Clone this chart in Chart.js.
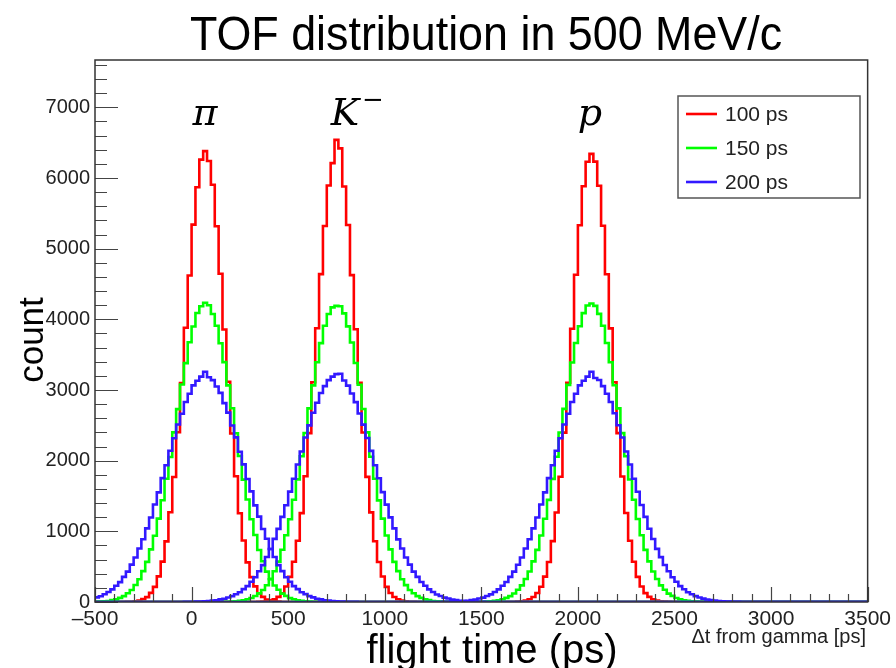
<!DOCTYPE html>
<html>
<head>
<meta charset="utf-8">
<title>TOF distribution in 500 MeV/c</title>
<script src="https://cdn.jsdelivr.net/npm/chart.js@4/dist/chart.umd.min.js"></script>
<style>
  html, body { margin: 0; padding: 0; background: #fff; }
  #tof { display: block; }
</style>
</head>
<body>
<canvas id="tof" width="896" height="668"></canvas>
<script>
// histogram binning (ps)
const xMin = -500;
const xMax = 3500;
const binWidth = 20;
const yMax = 7670;

const xTickValues = [-500, 0, 500, 1000, 1500, 2000, 2500, 3000, 3500];
const yTickValues = [0, 1000, 2000, 3000, 4000, 5000, 6000, 7000];

const resolutions = ["100 ps", "150 ps", "200 ps"];
const particles = ["π", "K⁻", "p"];

// counts per 20 ps bin, each list starts at the given lower bin edge
const piRedFrom = -340;
const piRed = [2, 4, 11, 19, 40, 69, 129, 214, 362, 571, 858, 1271, 1768, 2402, 3098, 3880, 4621, 5341, 5870, 6260,
  6380, 6240, 5905, 5318, 4645, 3856, 3117, 2385, 1780, 1255, 870, 561, 352, 221, 123, 73, 36, 21, 9, 5, 1];
const kRedFrom = 340;
const kRed = [3, 5, 10, 21, 37, 72, 124, 219, 355, 570, 866, 1258, 1779, 2390, 3110, 3874, 4640, 5320, 5895, 6210,
  6540, 6420, 5880, 5335, 4625, 3860, 3101, 2398, 1770, 1268, 860, 565, 360, 214, 128, 70, 39, 19, 11, 4, 2];
const pRedFrom = 1660;
const pRed = [1, 5, 9, 20, 39, 70, 127, 216, 359, 565, 861, 1266, 1772, 2397, 3102, 3866, 4630, 5332, 5884, 6230,
  6341, 6232, 5890, 5325, 4638, 3872, 3109, 2390, 1777, 1260, 866, 569, 356, 219, 125, 72, 37, 20, 10, 5, 2];

const piGreenFrom = -500;
const piGreen = [4, 6, 11, 15, 26, 37, 58, 83, 123, 169, 240, 321, 437, 568, 745, 938, 1180, 1440, 1745, 2052,
  2400, 2730, 3078, 3380, 3675, 3898, 4090, 4185, 4235, 4200, 4075, 3910, 3662, 3395, 3065, 2742, 2388, 2066,
  1732, 1450, 1170, 948, 736, 577, 430, 327, 233, 174, 119, 86, 55, 39, 24, 17, 9, 7, 3, 2, 1];
const kGreenFrom = 140;
const kGreen = [1, 2, 4, 7, 10, 16, 25, 39, 56, 85, 122, 170, 238, 323, 436, 571, 740, 945, 1172, 1447, 1736,
  2062, 2392, 2740, 3066, 3392, 3664, 3910, 4076, 4170, 4190, 4185, 4085, 3900, 3672, 3383, 3075, 2731, 2400,
  2055, 1745, 1438, 1180, 940, 745, 568, 437, 321, 239, 170, 123, 83, 58, 37, 26, 15, 11, 6, 4, 2, 1];
const pGreenFrom = 1460;
const pGreen = [1, 3, 4, 6, 9, 17, 24, 38, 58, 83, 120, 173, 235, 326, 432, 575, 738, 940, 1178, 1445, 1742,
  2055, 2398, 2733, 3072, 3390, 3666, 3902, 4088, 4196, 4225, 4190, 4078, 3910, 3665, 3392, 3068, 2740, 2390,
  2063, 1734, 1446, 1174, 945, 738, 575, 431, 326, 235, 173, 119, 86, 56, 39, 24, 17, 10, 6, 3, 2, 1];

const piBlueFrom = -500;
const piBlue = [66, 82, 110, 142, 178, 229, 281, 356, 430, 529, 630, 757, 887, 1042, 1196, 1380, 1552, 1753,
  1935, 2140, 2318, 2512, 2665, 2830, 2948, 3065, 3130, 3190, 3258, 3180, 3140, 3050, 2960, 2815, 2680, 2498,
  2330, 2126, 1948, 1740, 1565, 1368, 1208, 1032, 895, 750, 637, 522, 437, 350, 287, 224, 182, 138, 111, 83,
  65, 47, 37, 25, 20, 13, 10, 7, 5, 3, 2, 2, 1];
const kBlueFrom = -60;
const kBlue = [1, 2, 3, 3, 5, 8, 10, 13, 20, 25, 37, 47, 64, 83, 110, 138, 182, 225, 286, 350, 436, 522, 636,
  750, 893, 1035, 1205, 1370, 1562, 1744, 1946, 2130, 2328, 2500, 2678, 2820, 2958, 3055, 3140, 3190, 3225,
  3230, 3135, 3062, 2950, 2828, 2668, 2510, 2320, 2138, 1936, 1752, 1555, 1378, 1198, 1042, 886, 757, 630,
  529, 430, 355, 282, 229, 178, 142, 107, 85, 62, 49, 35, 27, 18, 15, 9, 7, 4, 3, 2, 1, 1];
const pBlueFrom = 1260;
const pBlue = [1, 1, 2, 3, 5, 7, 11, 14, 18, 27, 35, 49, 62, 85, 108, 141, 178, 229, 282, 355, 430, 528, 630,
  757, 887, 1042, 1196, 1380, 1552, 1753, 1935, 2140, 2318, 2512, 2665, 2830, 2948, 3065, 3130, 3190, 3258,
  3170, 3142, 3055, 2948, 2830, 2670, 2502, 2328, 2130, 1945, 1744, 1560, 1372, 1204, 1036, 892, 752, 635,
  524, 435, 351, 286, 225, 181, 139, 110, 83, 64, 48, 36, 26, 19, 14, 10, 7, 5, 3, 2, 1, 1];

const colors = ["#ff0000", "#00ff00", "#3219ff"];

// full-range histogram outline: one point per lower bin edge, empty bins are 0
function histPoints(counts, firstEdge) {
  const pts = [];
  for (let e = xMin; e < xMax; e += binWidth) {
    const i = Math.round((e - firstEdge) / binWidth);
    pts.push({ x: e, y: i >= 0 && i < counts.length ? counts[i] : 0 });
  }
  pts.push({ x: xMax, y: 0 });
  return pts;
}

function histSet(label, counts, from, res) {
  return {
    label: label,
    data: histPoints(counts, from),
    borderColor: colors[res],
    borderWidth: 2.6,
    stepped: "before",
    fill: false,
    pointRadius: 0,
    borderJoinStyle: "miter",
    borderCapStyle: "butt",
    order: 3 - res,
  };
}

const datasets = [
  histSet(resolutions[0], piRed, piRedFrom, 0),
  histSet(resolutions[0], kRed, kRedFrom, 0),
  histSet(resolutions[0], pRed, pRedFrom, 0),
  histSet(resolutions[1], piGreen, piGreenFrom, 1),
  histSet(resolutions[1], kGreen, kGreenFrom, 1),
  histSet(resolutions[1], pGreen, pGreenFrom, 1),
  histSet(resolutions[2], piBlue, piBlueFrom, 2),
  histSet(resolutions[2], kBlue, kBlueFrom, 2),
  histSet(resolutions[2], pBlue, pBlueFrom, 2),
];

const sans = "'Liberation Sans', Arial, Helvetica, sans-serif";

// ROOT-like frame, inner ticks, titles, particle labels and legend
const rootStyle = {
  id: "rootStyle",
  afterDraw(chart) {
    const { ctx, chartArea: a, scales } = chart;
    const x = scales.x, y = scales.y;
    ctx.save();

    // inner ticks on left and bottom axes
    ctx.strokeStyle = "#444";
    ctx.lineWidth = 1.2;
    ctx.beginPath();
    for (let v = 0; v <= yMax; v += 200) {
      const py = Math.round(y.getPixelForValue(v)) + 0.5;
      const len = v % 1000 === 0 ? 23 : 12;
      ctx.moveTo(a.left, py);
      ctx.lineTo(a.left + len, py);
    }
    for (let v = xMin; v <= xMax; v += 100) {
      const px = Math.round(x.getPixelForValue(v)) + 0.5;
      const len = v % 500 === 0 ? 15 : 8;
      ctx.moveTo(px, a.bottom);
      ctx.lineTo(px, a.bottom - len);
    }
    ctx.stroke();

    // frame
    ctx.strokeStyle = "#333";
    ctx.lineWidth = 1.5;
    ctx.strokeRect(a.left, a.top, a.right - a.left, a.bottom - a.top);

    // title (Helvetica look: a little condensed)
    ctx.fillStyle = "#000";
    ctx.textAlign = "center";
    ctx.textBaseline = "alphabetic";
    ctx.save();
    ctx.translate(486, 50);
    ctx.scale(0.915, 1);
    ctx.font = "49px " + sans;
    ctx.fillText("TOF distribution in 500 MeV/c", 0, 0);
    ctx.restore();

    ctx.font = "40px " + sans;
    ctx.fillText("flight time (ps)", 492, 663);

    ctx.save();
    ctx.translate(43, 340);
    ctx.rotate(-Math.PI / 2);
    ctx.font = "35px " + sans;
    ctx.fillText("count", 0, 0);
    ctx.restore();

    ctx.fillStyle = "#222";
    ctx.textAlign = "right";
    ctx.font = "20px " + sans;
    ctx.fillText("\u0394t from gamma [ps]", 866, 643);

    // particle labels over the peaks
    ctx.fillStyle = "#000";
    ctx.textAlign = "center";
    ctx.font = "italic 38px 'DejaVu Serif', 'Liberation Serif', serif";
    ctx.fillText(particles[0], 205, 125);
    ctx.fillText("K", 345, 125);
    ctx.fillText(particles[2], 590, 125);
    ctx.font = "26px 'DejaVu Serif', 'Liberation Serif', serif";
    ctx.fillText("\u2212", 373, 108);

    // legend box
    const lx = 678, ly = 96, lw = 182, lh = 102;
    ctx.fillStyle = "#fff";
    ctx.fillRect(lx, ly, lw, lh);
    ctx.strokeStyle = "#555";
    ctx.lineWidth = 1.5;
    ctx.strokeRect(lx, ly, lw, lh);
    ctx.font = "21px " + sans;
    ctx.textAlign = "left";
    ctx.textBaseline = "middle";
    resolutions.forEach((r, i) => {
      const ey = 114 + i * 34;
      ctx.strokeStyle = colors[i];
      ctx.lineWidth = 2.6;
      ctx.beginPath();
      ctx.moveTo(686, ey);
      ctx.lineTo(717, ey);
      ctx.stroke();
      ctx.fillStyle = "#222";
      ctx.fillText(r, 725, ey + 1);
    });

    ctx.restore();
  },
};

new Chart(document.getElementById("tof"), {
  type: "line",
  data: { datasets },
  options: {
    responsive: false,
    animation: false,
    events: [],
    layout: { padding: { top: 60, right: 27, left: 0, bottom: 0 } },
    plugins: { legend: { display: false }, tooltip: { enabled: false }, title: { display: false } },
    scales: {
      x: {
        type: "linear",
        min: xMin,
        max: xMax,
        afterBuildTicks: (s) => { s.ticks = xTickValues.map((v) => ({ value: v })); },
        afterFit: (s) => { s.height = 66; },
        grid: { display: false, drawTicks: false },
        border: { display: false },
        ticks: {
          padding: 5,
          color: "#222",
          font: { family: sans, size: 21 },
          maxRotation: 0,
          callback: (v) => (v < 0 ? "\u2013" + Math.abs(v) : String(v)),
        },
      },
      y: {
        type: "linear",
        min: 0,
        max: yMax,
        afterBuildTicks: (s) => { s.ticks = yTickValues.map((v) => ({ value: v })); },
        afterFit: (s) => { s.width = 95; },
        grid: { display: false, drawTicks: false },
        border: { display: false },
        ticks: {
          padding: 5,
          color: "#222",
          font: { family: sans, size: 20 },
          callback: (v) => String(v),
        },
      },
    },
  },
  plugins: [rootStyle],
});
</script>
</body>
</html>
